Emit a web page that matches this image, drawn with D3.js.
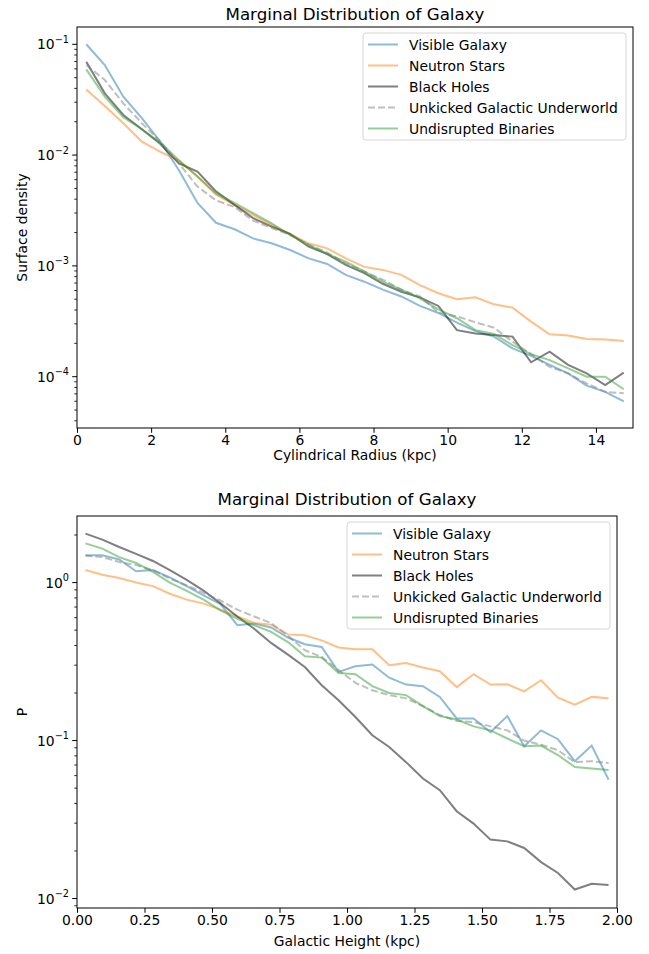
<!DOCTYPE html>
<html>
<head>
<meta charset="utf-8">
<script src="https://cdn.jsdelivr.net/npm/d3@7"></script>
<style>
    body { margin: 0; background: #fff; }
    svg { display: block; font-family: 'DejaVu Sans', sans-serif; }
</style>
</head>
<body>
<svg id="fig"></svg>
<script>
// series names / styles keyed by name
const seriesNames = ['Visible Galaxy', 'Neutron Stars', 'Black Holes', 'Unkicked Galactic Underworld', 'Undisrupted Binaries'];

// top panel: cylindrical radius (kpc) bin centres
const radius = [0.25, 0.75, 1.25, 1.75, 2.25, 2.75, 3.25, 3.75, 4.25, 4.75, 5.25, 5.75, 6.25, 6.75, 7.25,
    7.75, 8.25, 8.75, 9.25, 9.75, 10.25, 10.75, 11.25, 11.75, 12.25, 12.75, 13.25, 13.75, 14.25, 14.75];
const visibleR = [0.100, 0.065, 0.0336, 0.0216, 0.0132, 0.0073, 0.0037, 0.00245, 0.00214, 0.00177, 0.0016, 0.00139,
    0.00117, 0.00104, 0.00083, 0.00072, 0.00061, 0.00053, 0.000435, 0.000376, 0.000307, 0.000258, 0.00023, 0.00018,
    0.000154, 0.000128, 0.000107, 0.000083, 0.000073, 0.000060];
const neutronR = [0.039, 0.0277, 0.0194, 0.0132, 0.0107, 0.0089, 0.0064, 0.0044, 0.00355, 0.00288, 0.00234, 0.00193,
    0.0016, 0.00144, 0.00117, 0.00098, 0.00092, 0.00083, 0.00067, 0.000566, 0.0005, 0.00052, 0.00045, 0.00042,
    0.000314, 0.000241, 0.000235, 0.000219, 0.000217, 0.00021];
const blackR = [0.0697, 0.0361, 0.023, 0.0171, 0.0126, 0.0084, 0.0071, 0.0047, 0.00355, 0.0027, 0.00226, 0.00194,
    0.00149, 0.00128, 0.00102, 0.00086, 0.00069, 0.000585, 0.00052, 0.000435, 0.000263, 0.000245, 0.000238, 0.00023,
    0.000135, 0.000168, 0.000128, 0.000107, 0.000084, 0.000109];
const unkickedR = [0.065, 0.0476, 0.0293, 0.0194, 0.0132, 0.0084, 0.0052, 0.0039, 0.0034, 0.00256, 0.0022, 0.0019,
    0.00155, 0.00132, 0.00105, 0.00089, 0.00075, 0.00061, 0.00053, 0.00038, 0.00035, 0.00031, 0.000277, 0.000207,
    0.00016, 0.000123, 0.000107, 0.000087, 0.000073, 0.000071];
const undisruptedR = [0.0594, 0.0337, 0.022, 0.0171, 0.013, 0.009, 0.0064, 0.0045, 0.0037, 0.003, 0.00242, 0.0019,
    0.00155, 0.00128, 0.00109, 0.00089, 0.00072, 0.00061, 0.00051, 0.000405, 0.000337, 0.000263, 0.000243, 0.000193,
    0.00016, 0.000141, 0.000119, 0.0001, 0.0001, 0.000077];

// bottom panel: galactic height (kpc) bin centres
const height = [0.03125, 0.09375, 0.15625, 0.21875, 0.28125, 0.34375, 0.40625, 0.46875, 0.53125, 0.59375, 0.65625,
    0.71875, 0.78125, 0.84375, 0.90625, 0.96875, 1.03125, 1.09375, 1.15625, 1.21875, 1.28125, 1.34375, 1.40625,
    1.46875, 1.53125, 1.59375, 1.65625, 1.71875, 1.78125, 1.84375, 1.90625, 1.96875];
const visibleZ = [1.49, 1.49, 1.40, 1.18, 1.20, 1.08, 0.95, 0.83, 0.73, 0.537, 0.55, 0.52, 0.449, 0.407, 0.391, 0.272,
    0.295, 0.303, 0.25, 0.226, 0.221, 0.189, 0.138, 0.138, 0.113, 0.143, 0.092, 0.116, 0.102, 0.074, 0.093, 0.0566];
const neutronZ = [1.20, 1.12, 1.07, 1.0, 0.95, 0.85, 0.78, 0.736, 0.674, 0.61, 0.555, 0.542, 0.47, 0.464, 0.431, 0.388,
    0.378, 0.378, 0.3, 0.31, 0.29, 0.275, 0.218, 0.263, 0.226, 0.227, 0.205, 0.241, 0.187, 0.169, 0.189, 0.185];
const blackZ = [2.04, 1.87, 1.68, 1.52, 1.37, 1.20, 1.04, 0.89, 0.74, 0.61, 0.51, 0.415, 0.35, 0.292, 0.224, 0.18,
    0.141, 0.108, 0.091, 0.073, 0.0575, 0.0485, 0.0357, 0.0298, 0.0236, 0.023, 0.0209, 0.017, 0.0145, 0.0114, 0.0124, 0.0122];
const unkickedZ = [1.48, 1.45, 1.35, 1.29, 1.2, 1.06, 0.96, 0.86, 0.77, 0.674, 0.61, 0.555, 0.46, 0.373, 0.338, 0.279,
    0.232, 0.208, 0.194, 0.185, 0.165, 0.145, 0.133, 0.131, 0.123, 0.116, 0.1, 0.094, 0.087, 0.073, 0.074, 0.072];
const undisruptedZ = [1.77, 1.64, 1.45, 1.33, 1.17, 1.0, 0.885, 0.78, 0.668, 0.59, 0.537, 0.487, 0.42, 0.342, 0.335, 0.268,
    0.263, 0.221, 0.2, 0.194, 0.165, 0.143, 0.136, 0.123, 0.116, 0.103, 0.092, 0.093, 0.081, 0.068, 0.0665, 0.065];

const radiusTicks = [0, 2, 4, 6, 8, 10, 12, 14];
const heightTicks = [0, 0.25, 0.5, 0.75, 1.0, 1.25, 1.5, 1.75, 2.0];

const styles = {
    'Visible Galaxy': {color: '#1f77b4', dash: null},
    'Neutron Stars': {color: '#ff7f0e', dash: null},
    'Black Holes': {color: '#000000', dash: null},
    'Unkicked Galactic Underworld': {color: '#808080', dash: '7,3'},
    'Undisrupted Binaries': {color: '#2ca02c', dash: null}
};

const FS = 13.9;      // tick / label / legend font size
const FS_TITLE = 16.7;

class LogLinePanel {
    constructor (config, xs, series) {
        this.config = {
            parent: config.parent,
            left: config.left, right: config.right,
            top: config.top, bottom: config.bottom,
            xdomain: config.xdomain,
            ydomain: config.ydomain,
            xticks: config.xticks,
            xfmt: config.xfmt,
            title: config.title,
            xlabel: config.xlabel,
            ylabel: config.ylabel,
            titleY: config.titleY,
            xlabelY: config.xlabelY,
            legendWidth: config.legendWidth || 263
        };
        this.xs = xs;
        this.series = series;
        this.init();
    }

    init() {
        let self = this;
        let c = self.config;
        self.g = c.parent.append('g');
        self.xscale = d3.scaleLinear().domain(c.xdomain).range([c.left, c.right]);
        self.yscale = d3.scaleLog().domain(c.ydomain).range([c.bottom, c.top]);
        self.render();
    }

    render() {
        let self = this;
        let c = self.config;

        // lines
        let line = d3.line()
            .x((d, i) => self.xscale(self.xs[i]))
            .y(d => self.yscale(d));

        self.g.selectAll('path.series')
            .data(self.series)
            .enter()
            .append('path')
            .attr('class', 'series')
            .attr('d', d => line(d.values))
            .attr('fill', 'none')
            .attr('stroke', d => styles[d.name].color)
            .attr('stroke-opacity', 0.5)
            .attr('stroke-width', 2)
            .attr('stroke-dasharray', d => styles[d.name].dash);

        // x axis
        let xaxis = d3.axisBottom(self.xscale)
            .tickValues(c.xticks)
            .tickFormat(c.xfmt)
            .tickSize(4.8)
            .tickPadding(2.5);
        let xg = self.g.append('g')
            .attr('transform', `translate(0,${c.bottom})`)
            .call(xaxis);
        xg.select('.domain').remove();
        xg.selectAll('text').style('font-size', FS + 'px').attr('fill', '#000')
            .style('font-family', "'DejaVu Sans', sans-serif");
        xg.selectAll('line').attr('stroke', '#000').attr('stroke-width', 1);

        // y axis: majors with 10^n labels, minors unlabeled
        let [y0, y1] = c.ydomain;
        let lo = Math.floor(Math.log10(y0)), hi = Math.ceil(Math.log10(y1));
        let majors = [], minors = [];
        for (let e = lo; e <= hi; e++) {
            for (let m = 1; m < 10; m++) {
                let v = m * Math.pow(10, e);
                if (v < y0 || v > y1) continue;
                if (m === 1) majors.push(e); else minors.push(v);
            }
        }
        let yg = self.g.append('g');
        yg.selectAll('line.minor')
            .data(minors)
            .enter()
            .append('line')
            .attr('x1', c.left).attr('x2', c.left - 2.8)
            .attr('y1', d => self.yscale(d)).attr('y2', d => self.yscale(d))
            .attr('stroke', '#000').attr('stroke-width', 0.8);
        yg.selectAll('line.major')
            .data(majors)
            .enter()
            .append('line')
            .attr('x1', c.left).attr('x2', c.left - 4.8)
            .attr('y1', d => self.yscale(Math.pow(10, d))).attr('y2', d => self.yscale(Math.pow(10, d)))
            .attr('stroke', '#000').attr('stroke-width', 1);
        let labels = yg.selectAll('text.major')
            .data(majors)
            .enter()
            .append('text')
            .attr('x', c.left - 8)
            .attr('y', d => self.yscale(Math.pow(10, d)) + 5)
            .attr('text-anchor', 'end')
            .style('font-size', FS + 'px');
        labels.append('tspan').text('10');
        labels.append('tspan')
            .attr('dy', -6.5)
            .style('font-size', '9.7px')
            .text(d => d < 0 ? '\u2212' + (-d) : String(d));

        // frame
        self.g.append('rect')
            .attr('x', c.left).attr('y', c.top)
            .attr('width', c.right - c.left).attr('height', c.bottom - c.top)
            .attr('fill', 'none').attr('stroke', '#000').attr('stroke-width', 1);

        // title and axis labels
        self.g.append('text')
            .attr('x', (c.left + c.right) / 2).attr('y', c.titleY)
            .attr('text-anchor', 'middle')
            .style('font-size', FS_TITLE + 'px')
            .text(c.title);
        self.g.append('text')
            .attr('x', (c.left + c.right) / 2).attr('y', c.xlabelY)
            .attr('text-anchor', 'middle')
            .style('font-size', FS + 'px')
            .text(c.xlabel);
        self.g.append('text')
            .attr('transform', `translate(27,${(c.top + c.bottom) / 2}) rotate(-90)`)
            .attr('text-anchor', 'middle')
            .style('font-size', FS + 'px')
            .text(c.ylabel);

        // legend
        let lx = c.right - 7 - c.legendWidth, ly = c.top + 6;
        let lg = self.g.append('g').attr('transform', `translate(${lx},${ly})`);
        lg.append('rect')
            .attr('width', c.legendWidth).attr('height', 107)
            .attr('rx', 3)
            .attr('fill', '#fff').attr('fill-opacity', 0.8)
            .attr('stroke', '#d6d6d6').attr('stroke-width', 1);
        let items = lg.selectAll('g.item')
            .data(self.series)
            .enter()
            .append('g')
            .attr('transform', (d, i) => `translate(0,${11.5 + i * 21})`);
        items.append('line')
            .attr('x1', 5).attr('x2', 35)
            .attr('stroke', d => styles[d.name].color)
            .attr('stroke-opacity', 0.5)
            .attr('stroke-width', 2)
            .attr('stroke-dasharray', d => styles[d.name].dash);
        items.append('text')
            .attr('x', 46).attr('y', 5)
            .style('font-size', FS + 'px')
            .text(d => d.name);
    }
}

const svg = d3.select('#fig').attr('width', 649).attr('height', 954);

new LogLinePanel({
    parent: svg,
    left: 77, right: 633, top: 27, bottom: 428,
    xdomain: [0, 15],
    ydomain: [Math.pow(10, -4.463), Math.pow(10, -0.844)],
    xticks: radiusTicks,
    xfmt: d3.format('d'),
    title: 'Marginal Distribution of Galaxy',
    titleY: 20,
    xlabelY: 460,
    xlabel: 'Cylindrical Radius (kpc)',
    ylabel: 'Surface density'
}, radius, [
    {name: seriesNames[0], values: visibleR},
    {name: seriesNames[1], values: neutronR},
    {name: seriesNames[2], values: blackR},
    {name: seriesNames[3], values: unkickedR},
    {name: seriesNames[4], values: undisruptedR}
]);

new LogLinePanel({
    parent: svg,
    left: 77, right: 617, top: 516, bottom: 908,
    xdomain: [0, 2],
    ydomain: [Math.pow(10, -2.06), Math.pow(10, 0.4215)],
    xticks: heightTicks,
    xfmt: d3.format('.2f'),
    title: 'Marginal Distribution of Galaxy',
    titleY: 505,
    xlabelY: 946,
    xlabel: 'Galactic Height (kpc)',
    ylabel: 'P'
}, height, [
    {name: seriesNames[0], values: visibleZ},
    {name: seriesNames[1], values: neutronZ},
    {name: seriesNames[2], values: blackZ},
    {name: seriesNames[3], values: unkickedZ},
    {name: seriesNames[4], values: undisruptedZ}
]);
</script>
</body>
</html>
